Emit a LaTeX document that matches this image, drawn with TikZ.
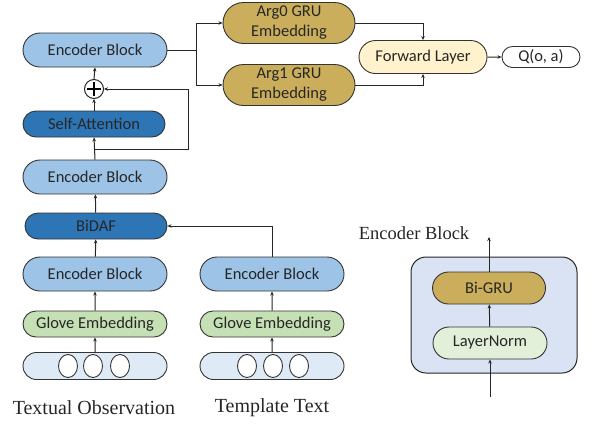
\documentclass[tikz,border=0pt]{standalone}
\usepackage{fontspec}
\setmainfont{Liberation Serif}
\newfontfamily\nodefont{Carlito}
\usetikzlibrary{shapes.misc,shapes.geometric,arrows.meta}

\definecolor{encblue}{HTML}{9DC3E6}
\definecolor{attblue}{HTML}{2E75B6}
\definecolor{glovegreen}{HTML}{C5E0B4}
\definecolor{inblue}{HTML}{DEEBF7}
\definecolor{argold}{HTML}{CBAE5C}
\definecolor{fwdyellow}{HTML}{FFF2CC}
\definecolor{normgreen}{HTML}{E2F0D9}
\definecolor{blkblue}{HTML}{DAE3F3}

\tikzset{
  pill/.style={rounded rectangle, draw=black!80, line width=0.9bp, inner sep=0pt,
    font=\nodefont\fontsize{16.5bp}{20bp}\selectfont, text=black!85},
  encblock/.style={pill, fill=encblue, minimum width=144bp, minimum height=34bp},
  attblock/.style={pill, fill=attblue, minimum width=142bp, minimum height=26bp},
  glove/.style={pill, fill=glovegreen, minimum width=144bp, minimum height=26bp},
  inputs/.style={pill, fill=inblue, minimum width=144bp, minimum height=27bp},
  token/.style={ellipse, draw=black!80, line width=0.9bp, fill=white, minimum width=19bp, minimum height=23bp, inner sep=0pt},
  argbox/.style={pill, fill=argold, minimum width=132bp, minimum height=41bp, align=center},
  link/.style={line width=1bp, draw=black!85},
  arr/.style={link, -{Stealth[length=4bp,width=3.5bp]}},
  caption/.style={font=\fontsize{20bp}{22bp}\selectfont, text=black!85}
}

\begin{document}
\begin{tikzpicture}[x=1bp,y=-1bp]
\useasboundingbox (0,0) rectangle (590,423);
% left column
\node[encblock] (enc1) at (95,50) {Encoder Block};
\node[circle, draw=black!85, line width=1bp, fill=white, minimum size=19bp, inner sep=0pt] (plus) at (94,89) {};
\draw[line width=1.5bp] ([yshift=-3bp]plus.north) -- ([yshift=3bp]plus.south);
\draw[line width=1.5bp] ([xshift=3bp]plus.west) -- ([xshift=-3bp]plus.east);
\node[attblock] (satt) at (94,124) {Self-Attention};
\node[encblock] (enc2) at (95,177) {Encoder Block};
\node[attblock, minimum width=142bp] (bidaf) at (96,226) {BiDAF};
\node[encblock] (enc3) at (95,274) {Encoder Block};
\node[glove] (glove1) at (95,324) {Glove Embedding};
\node[inputs] (in1) at (95,366) {};
\foreach \dx [count=\i] in {-27,-2,25}
  \node[token] (tokA\i) at (95+\dx,366) {};
\node[caption] (capA) at (94,408) {Textual Observation};

% template column
\node[encblock] (encR) at (272,274) {Encoder Block};
\node[glove] (gloveR) at (272,324) {Glove Embedding};
\node[inputs] (inR) at (272,366) {};
\foreach \dx [count=\i] in {-25,1,27}
  \node[token] (tokB\i) at (272+\dx,366) {};
\node[caption] (capB) at (272,408) {Template Text};

\draw[arr] (in1) -- (glove1);
\draw[arr] (glove1) -- (enc3);
\draw[arr] (enc3) -- (bidaf);
\draw[arr] (bidaf) -- (enc2);
\draw[arr] (inR) -- (gloveR);
\draw[arr] (gloveR) -- (encR);
\draw[arr] (encR.north) |- (bidaf.east);
\draw[arr] (enc2.north) -- (satt.south);
\coordinate (br) at (95,149);
\coordinate (loop) at (188,149);
\draw[arr] (br) -- (loop) |- (plus.east);
\draw[arr] (satt.north) -- (plus.south);
\draw[arr] (plus.north) -- (enc1.south);

% heads
\node[argbox] (arg0) at (289,23) {Arg0 GRU\\Embedding};
\node[argbox] (arg1) at (289,85) {Arg1 GRU\\Embedding};
\node[pill, fill=fwdyellow, minimum width=128bp, minimum height=33bp] (fwd) at (423,57) {Forward Layer};
\node[pill, fill=white, minimum width=78bp, minimum height=21bp] (q) at (541,57) {Q(o, a)};
\coordinate (split) at (196,50);
\draw[link] (enc1.east) -- (split);
\draw[arr] (split) |- (arg0.west);
\draw[arr] (split) |- (arg1.west);
\draw[arr] (arg0.east) -| (fwd.north);
\draw[arr] (arg1.east) -| (fwd.south);
\draw[arr] (fwd) -- (q);

% encoder block detail
\node[caption, font=\fontsize{18.5bp}{20bp}\selectfont] (blkcap) at (414,233) {Encoder Block};
\node[draw=black!85, line width=1bp, fill=blkblue, rounded corners=15bp, minimum width=166bp, minimum height=116bp] (blk) at (494,315) {};
\node[pill, fill=argold, minimum width=113bp, minimum height=32bp] (bigru) at (489,288) {Bi-GRU};
\node[pill, fill=normgreen, minimum width=114bp, minimum height=32bp] (lnorm) at (490,343) {LayerNorm};
\coordinate (blkin) at (490,397);
\coordinate (blkout) at (489,237);
\draw[arr] (blkin) -- (lnorm.south);
\draw[arr] (lnorm) -- (bigru);
\draw[arr] (bigru.north) -- (blkout);
\end{tikzpicture}
\end{document}
